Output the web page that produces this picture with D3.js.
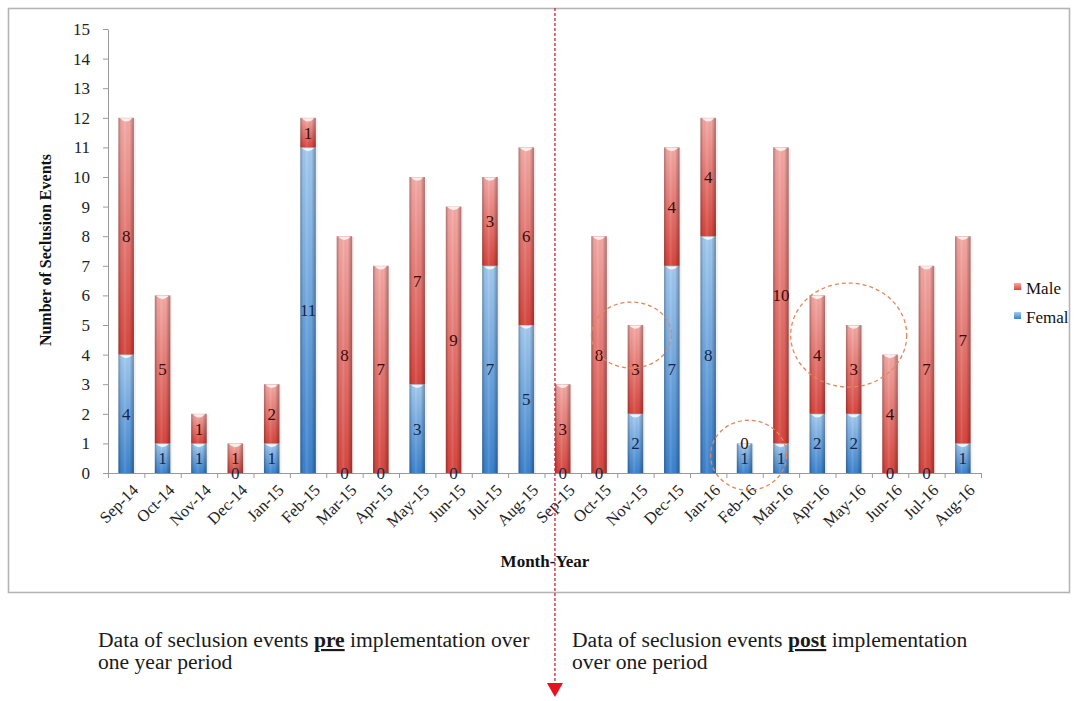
<!DOCTYPE html>
<html>
<head>
<meta charset="utf-8">
<script src="https://cdn.jsdelivr.net/npm/d3@7"></script>
<style>
  html, body { margin: 0; padding: 0; background: #fff; }
  svg { display: block; }
  text { font-family: "Liberation Serif", "Times New Roman", serif; }
</style>
</head>
<body>
<svg id="chart" width="1078" height="701"></svg>
<script>
// Monthly seclusion events, Sep 2014 – Aug 2016
const months = ["Sep-14","Oct-14","Nov-14","Dec-14","Jan-15","Feb-15","Mar-15","Apr-15",
  "May-15","Jun-15","Jul-15","Aug-15","Sep-15","Oct-15","Nov-15","Dec-15",
  "Jan-16","Feb-16","Mar-16","Apr-16","May-16","Jun-16","Jul-16","Aug-16"];
const female = [4,1,1,0,1,11,0,0,3,0,7,5,0,0,2,7,8,1,1,2,2,0,0,1];
const male   = [8,5,1,1,2,1,8,7,7,9,3,6,3,8,3,4,4,0,10,4,3,4,7,7];
const seriesNames = ["Female","Male"];
const yTicks = d3.range(0, 16);
const implementationStart = "Sep-15";
// highlighted months: [month, value at centre, x offset px, rx, ry]
const highlights = [
  ["Nov-15", 4.66, -4, 40, 33],
  ["Feb-16", 0.6, 4, 38, 35],
  ["May-16", 4.66, -5, 58, 52]
];

const svg = d3.select("#chart");
const defs = svg.append("defs");

// frame
svg.append("rect").attr("x", 8.5).attr("y", 8.5).attr("width", 1061).attr("height", 584)
  .attr("fill", "#fff").attr("stroke", "#b4b4b4").attr("stroke-width", 1.6);

const x = d3.scaleBand().domain(months).range([108, 981]).paddingInner(0.574).paddingOuter(0.287);
const y = d3.scaleLinear().domain([0, 15]).range([473, 29]);

const rows = months.map((m, i) => ({ month: m, Female: female[i], Male: male[i] }));
const stacked = d3.stack().keys(seriesNames)(rows);

// gradients for the bar shading
const palettes = {
  Female: { top: "#a3cbf1", bottom: "#3a82ce", label: "#16264a" },
  Male:   { top: "#f6aaa6", bottom: "#d8443d", label: "#3a0b0b" }
};
Object.entries(palettes).forEach(([k, p]) => {
  const g = defs.append("linearGradient").attr("id", "v-" + k)
    .attr("x1", 0).attr("y1", 0).attr("x2", 0).attr("y2", 1);
  g.append("stop").attr("offset", 0).attr("stop-color", p.top);
  g.append("stop").attr("offset", 1).attr("stop-color", p.bottom);
});
const hg = defs.append("linearGradient").attr("id", "h-shade")
  .attr("x1", 0).attr("y1", 0).attr("x2", 1).attr("y2", 0);
[[0, "#000", 0.3], [0.18, "#000", 0.03], [0.42, "#fff", 0.12], [0.7, "#000", 0.0], [1, "#000", 0.32]]
  .forEach(([o, c, a]) => hg.append("stop").attr("offset", o).attr("stop-color", c).attr("stop-opacity", a));

// axes
const yAxis = svg.append("g").attr("transform", "translate(108,0)")
  .call(d3.axisLeft(y).tickValues(yTicks).tickSize(5).tickSizeOuter(0).tickPadding(13));
yAxis.selectAll("text").attr("font-size", 17).attr("fill", "#222")
  .style("font-family", '"Liberation Serif", serif');
yAxis.selectAll("line, path").attr("stroke", "#9a9a9a");

const idx = d3.scaleLinear().domain([0, months.length]).range([108, 981]);
const xAxis = svg.append("g").attr("transform", "translate(0,473)")
  .call(d3.axisBottom(idx).tickValues(d3.range(months.length + 1)).tickFormat("").tickSize(5).tickSizeOuter(0));
xAxis.selectAll("line, path").attr("stroke", "#9a9a9a");

const xLabels = svg.append("g");
xLabels.selectAll("text").data(months).join("text")
  .attr("transform", d => `translate(${x(d) + x.bandwidth() / 2 + 9},${487}) rotate(-45)`)
  .attr("text-anchor", "end").attr("dy", "0.35em")
  .attr("font-size", 16.5).attr("fill", "#222").text(d => d);

// bars
const bw = x.bandwidth();
stacked.forEach(layer => {
  const key = layer.key;
  const g = svg.append("g");
  layer.forEach(seg => {
    const m = seg.data.month;
    const y0 = y(seg[0]), y1 = y(seg[1]);
    if (y0 - y1 <= 0) return;
    const xl = x(m);
    // faint drop shadow
    g.append("rect").attr("x", xl + 2).attr("y", y1 + 1).attr("width", bw).attr("height", y0 - y1)
      .attr("fill", "#000").attr("opacity", 0.06);
    g.append("rect").attr("x", xl).attr("y", y1).attr("width", bw).attr("height", y0 - y1)
      .attr("fill", `url(#v-${key})`);
    g.append("rect").attr("x", xl).attr("y", y1).attr("width", bw).attr("height", y0 - y1)
      .attr("fill", "url(#h-shade)");
    // bevel highlight at the segment top
    g.append("path")
      .attr("d", `M${xl + 1.5},${y1 + 0.5} Q${xl + bw / 2},${y1 + 7} ${xl + bw - 1.5},${y1 + 0.5} Z`)
      .attr("fill", "#fff").attr("opacity", 0.8);
  });
});

// value labels
stacked.forEach(layer => {
  svg.append("g").selectAll("text").data(layer).join("text")
    .attr("x", d => x(d.data.month) + bw / 2)
    .attr("y", d => y((d[0] + d[1]) / 2))
    .attr("dy", "0.35em").attr("text-anchor", "middle")
    .attr("font-size", 17).attr("fill", palettes[layer.key].label)
    .text(d => d[1] - d[0]);
});

// highlight rings
svg.append("g").selectAll("ellipse").data(highlights).join("ellipse")
  .attr("cx", d => x(d[0]) + bw / 2 + d[2]).attr("cy", d => y(d[1]))
  .attr("rx", d => d[3]).attr("ry", d => d[4])
  .attr("fill", "none").attr("stroke", "#e3875a").attr("stroke-width", 1.3)
  .attr("stroke-dasharray", "4,3");

// axis titles
svg.append("text").attr("transform", "translate(51,250) rotate(-90)")
  .attr("text-anchor", "middle").attr("font-size", 16).attr("font-weight", "bold")
  .attr("fill", "#111").text("Number of Seclusion Events");
svg.append("text").attr("x", 545).attr("y", 567).attr("text-anchor", "middle")
  .attr("font-size", 17).attr("font-weight", "bold").attr("fill", "#111").text("Month-Year");

// legend
defs.append("clipPath").attr("id", "frame-clip").append("rect")
  .attr("x", 0).attr("y", 0).attr("width", 1069).attr("height", 701);
const legend = svg.append("g").attr("clip-path", "url(#frame-clip)");
["Male", "Female"].forEach((k, i) => {
  const ly = 288 + i * 29;
  legend.append("rect").attr("x", 1014).attr("y", ly - 5).attr("width", 7).attr("height", 7)
    .attr("fill", `url(#v-${k})`);
  legend.append("text").attr("x", 1026).attr("y", ly).attr("dy", "0.35em")
    .attr("font-size", 17).attr("fill", "#111").text(k);
});

// implementation divider
const divX = x(implementationStart);
svg.append("line").attr("x1", divX).attr("x2", divX).attr("y1", 8).attr("y2", 684)
  .attr("stroke", "#d41f2e").attr("stroke-width", 1.3).attr("stroke-dasharray", "3,2");
svg.append("path").attr("d", `M${divX - 8},683 L${divX + 8},683 L${divX},697 Z`).attr("fill", "#e8101c");

// period captions
function caption(x0, parts, line2) {
  const t = svg.append("text").attr("x", x0).attr("y", 647).attr("font-size", 21.6).attr("fill", "#1a1a1a");
  parts.forEach(p => {
    const s = t.append("tspan").text(p.text);
    if (p.strong) s.attr("font-weight", "bold").style("text-decoration", "underline");
  });
  svg.append("text").attr("x", x0).attr("y", 669).attr("font-size", 21.6).attr("fill", "#1a1a1a").text(line2);
}
caption(98, [{ text: "Data of seclusion events " }, { text: "pre", strong: true }, { text: " implementation over" }], "one year period");
caption(572, [{ text: "Data of seclusion events " }, { text: "post", strong: true }, { text: " implementation" }], "over one period");
</script>
</body>
</html>
